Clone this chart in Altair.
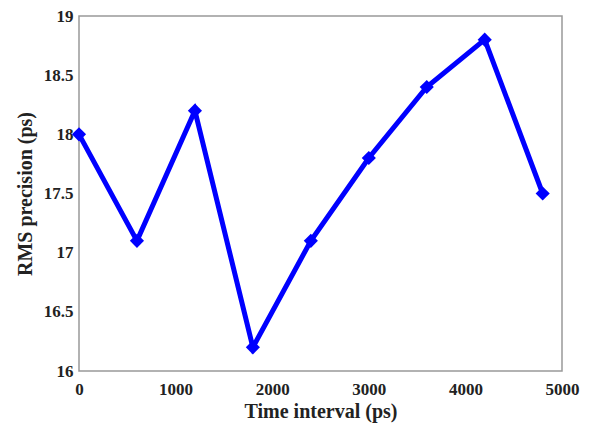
import altair as alt
import pandas as pd

time_ps = [0, 600, 1200, 1800, 2400, 3000, 3600, 4200, 4800]
rms_ps = [18.0, 17.1, 18.2, 16.2, 17.1, 17.8, 18.4, 18.8, 17.5]

df = pd.DataFrame({"t": time_ps, "rms": rms_ps})

FONT = "Liberation Serif"

x = alt.X("t:Q", scale=alt.Scale(domain=[0, 5000], nice=False),
          axis=alt.Axis(title="Time interval (ps)", values=[0, 1000, 2000, 3000, 4000, 5000],
                        format="d", grid=False, ticks=False, labelFlush=False,
                        labelPadding=10, titlePadding=4))
y = alt.Y("rms:Q", scale=alt.Scale(domain=[16, 19], nice=False, zero=False),
          axis=alt.Axis(title="RMS precision (ps)", values=[16, 16.5, 17, 17.5, 18, 18.5, 19],
                        format="~g", grid=False, ticks=False, labelFlush=False,
                        labelPadding=6, titlePadding=8))

line = alt.Chart(df).mark_line(color="#0000FF", strokeWidth=5).encode(x=x, y=y)
pts = alt.Chart(df).mark_point(shape="diamond", filled=True, color="#0000FF", size=200, opacity=1).encode(x=x, y=y)

chart = alt.layer(line, pts).properties(
    width=483, height=355,
    autosize=alt.AutoSizeParams(type="none"),
    padding={"left": 71, "top": 8, "right": 19, "bottom": 53},
).configure_view(stroke="#999999", strokeWidth=1.5).configure_axis(
    labelFont=FONT, titleFont=FONT, labelFontSize=17, titleFontSize=20,
    labelFontWeight="bold", titleFontWeight="bold", labelColor="#222222", titleColor="#222222",
    domain=False,
)

chart.save("out.html", embed_options={"renderer": "svg", "actions": False})
